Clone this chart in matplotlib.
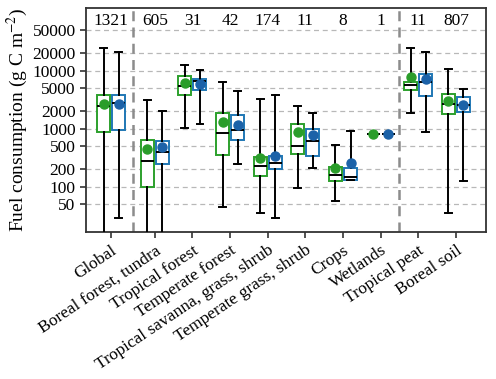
import matplotlib
matplotlib.use('Agg')
import matplotlib.pyplot as plt
from matplotlib.ticker import FixedLocator, FixedFormatter, NullLocator
import matplotlib.transforms as mtrans

plt.rcParams['font.family'] = ['Liberation Serif', 'DejaVu Serif']
plt.rcParams['mathtext.fontset'] = 'stix'

categories = ['Global', 'Boreal forest, tundra', 'Tropical forest', 'Temperate forest',
              'Tropical savanna, grass, shrub', 'Temperate grass, shrub', 'Crops',
              'Wetlands', 'Tropical peat', 'Boreal soil']
counts = [1321, 605, 31, 42, 174, 11, 8, 1, 11, 807]

# green series
g_whislo = [5, 5, 1040, 44.4, 35, 96.6, 57, 810, 1842, 35]
g_q1 = [878, 100, 3850, 353, 153, 367, 127, 810, 4580, 1791]
g_med = [2460, 275, 5430, 834, 228, 498, 160, 810, 5650, 2690]
g_q3 = [3850, 632, 8070, 1842, 330, 1191, 222, 810, 6290, 3900]
g_whishi = [24800, 3120, 12500, 6290, 3210, 2460, 518, 810, 24800, 10540]
g_mean = [2690, 453, 6190, 1290, 313, 878, 208, 810, 7670, 3035]

# blue series
b_whislo = [29.4, 5, 1205, 247, 29, 208, 131, 820, 878, 124]
b_q1 = [939, 250, 4690, 632, 203, 343, 131, 820, 3660, 1916]
b_med = [2800, 397, 6620, 962, 260, 607, 150, 820, 6290, 2590]
b_q3 = [3850, 622, 7170, 1743, 339, 989, 208, 820, 8850, 3560]
b_whishi = [21200, 2000, 10250, 4510, 3760, 1864, 924, 820, 21200, 4830]
b_mean = [2630, 490, 5880, 1172, 336, 780, 260, 820, 7170, 2590]

yticks = [50, 100, 200, 500, 1000, 2000, 5000, 10000, 20000, 50000]

positions = [0.0] + [1.16 + i for i in range(9)]
offset = 0.2
width = 0.35

green_edge = '#2ca02c'
blue_edge = '#1f77b4'
green_dot = '#2a9d2a'
blue_dot = '#1c62a8'

fig = plt.figure(figsize=(4.96, 3.79), dpi=100)
ax = fig.add_axes([0.1734, 0.388, 0.8066, 0.591])


def stats(lo, q1, med, q3, hi, mean):
    return [dict(whislo=a, q1=b, med=c, q3=d, whishi=e, mean=f, fliers=[])
            for a, b, c, d, e, f in zip(lo, q1, med, q3, hi, mean)]


for st, sgn, ec, dc in [
        (stats(g_whislo, g_q1, g_med, g_q3, g_whishi, g_mean), -1, green_edge, green_dot),
        (stats(b_whislo, b_q1, b_med, b_q3, b_whishi, b_mean), 1, blue_edge, blue_dot)]:
    pos = [p + sgn * offset for p in positions]
    ax.bxp(st, positions=pos, widths=width, showmeans=True, showfliers=False,
           patch_artist=True, capwidths=0.18, manage_ticks=False,
           boxprops=dict(facecolor='white', edgecolor=ec, linewidth=1.4),
           whiskerprops=dict(color='black', linewidth=1.4),
           capprops=dict(color='black', linewidth=1.4),
           medianprops=dict(color='black', linewidth=1.4),
           meanprops=dict(marker='o', markerfacecolor=dc, markeredgecolor=dc,
                          markersize=6.5),
           zorder=3)

ax.set_yscale('log')
ax.set_ylim(16.7, 1.2e5)
ax.set_xlim(-0.665, 9.96)

ax.yaxis.set_major_locator(FixedLocator(yticks))
ax.yaxis.set_major_formatter(FixedFormatter([str(t) for t in yticks]))
ax.yaxis.set_minor_locator(NullLocator())
ax.grid(axis='y', which='major', linestyle=(0, (4, 3)), color='#b8b8b8', linewidth=0.9, zorder=0)
ax.set_axisbelow(True)

ax.set_xticks(positions)
ax.set_xticklabels(categories, rotation=34, ha='right', rotation_mode='anchor')

for xs in [(positions[0] + positions[1]) / 2, (positions[7] + positions[8]) / 2]:
    ax.axvline(xs, color='#8c8c8c', linestyle=(0, (4, 2.5)), linewidth=1.8, zorder=1)

trans = mtrans.blended_transform_factory(ax.transData, ax.transAxes)
for p, n in zip(positions, counts):
    ax.text(p, 0.942, str(n), transform=trans, ha='center', va='center', fontsize=12.5)

ax.tick_params(axis='both', labelsize=12.5, width=1.2, length=4, color='#333333')
for s in ax.spines.values():
    s.set_linewidth(1.3)
    s.set_color('#333333')

ax.set_ylabel('Fuel consumption (g C m$^{-2}$)', fontsize=14, labelpad=2)

fig.savefig('out.png', dpi=100)
